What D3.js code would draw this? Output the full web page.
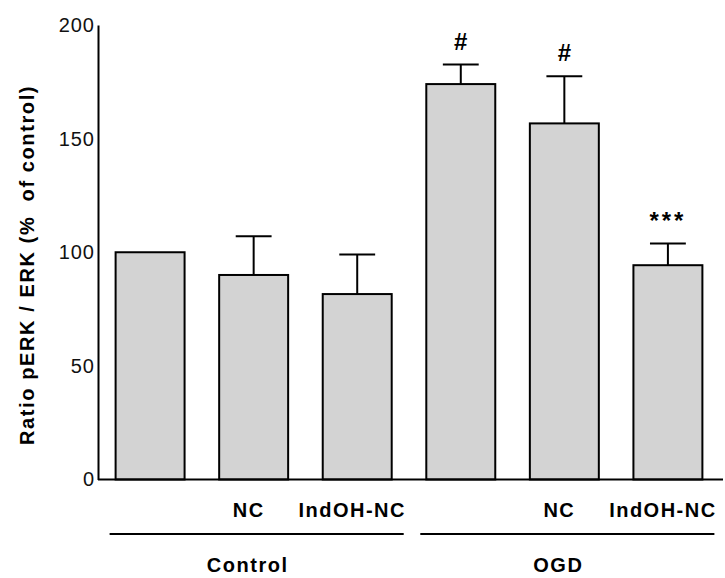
<!DOCTYPE html>
<html>
<head>
<meta charset="utf-8">
<script src="https://cdn.jsdelivr.net/npm/d3@7"></script>
<style>
  body { margin: 0; background: #fff; }
  svg { font-family: "Liberation Sans", Arial, sans-serif; }
</style>
</head>
<body>
<div id="chart"></div>
<script>
// data
var barIds = ["ctl", "ctl-nc", "ctl-ind", "ogd", "ogd-nc", "ogd-ind"];
var barLabels = ["", "NC", "IndOH-NC", "", "NC", "IndOH-NC"];
var means = [100, 90, 81.6, 174, 156.7, 94.3];
var errors = [0, 17, 17.4, 8.6, 20.8, 9.5];
var marks = ["", "", "", "#", "#", "***"];
var groupNames = ["Control", "OGD"];
var groupSpans = [[0, 2], [3, 5]];
var yTicks = [0, 50, 100, 150, 200];

// set the dimensions
var width = 725,
    height = 578;

var svg = d3.select("#chart")
    .append("svg")
    .attr("width", width)
    .attr("height", height);

// scales
var x = d3.scaleBand()
    .domain(barIds)
    .range([98, 720])
    .paddingInner(0.334)
    .paddingOuter(0.17);

var y = d3.scaleLinear()
    .domain([0, 200])
    .range([479.5, 25]);

var data = barIds.map(function(id, i) {
    return { id: id, label: barLabels[i], mean: means[i], err: errors[i], mark: marks[i] };
});

// Y axis
var yAxis = svg.append("g")
    .attr("transform", "translate(98,0)")
    .call(d3.axisLeft(y).tickValues(yTicks).tickSizeInner(0).tickSizeOuter(0).tickPadding(3));
yAxis.select(".domain").attr("stroke", "#000").attr("stroke-width", 2);
yAxis.selectAll("text")
    .attr("fill", "#111")
    .style("font-size", "20px")
    .style("letter-spacing", "1px")
    .style("font-family", "'Liberation Sans', Arial, sans-serif");

// y label
svg.append("text")
    .attr("transform", "translate(34,265) rotate(-90)")
    .attr("text-anchor", "middle")
    .style("font-size", "20px")
    .style("font-weight", "bold")
    .style("letter-spacing", "1.6px")
    .style("white-space", "pre")
    .text("Ratio pERK / ERK (%  of control)");

// error bars (drawn first so bars cover the stem bottom)
var errG = svg.append("g")
    .selectAll("g")
    .data(data.filter(function(d) { return d.err > 0; }))
    .enter()
    .append("g");

errG.append("line")
    .attr("x1", function(d) { return x(d.id) + x.bandwidth() / 2; })
    .attr("x2", function(d) { return x(d.id) + x.bandwidth() / 2; })
    .attr("y1", function(d) { return y(d.mean); })
    .attr("y2", function(d) { return y(d.mean + d.err); })
    .attr("stroke", "#000")
    .attr("stroke-width", 2);

errG.append("line")
    .attr("x1", function(d) { return x(d.id) + x.bandwidth() * 0.24; })
    .attr("x2", function(d) { return x(d.id) + x.bandwidth() * 0.76; })
    .attr("y1", function(d) { return y(d.mean + d.err); })
    .attr("y2", function(d) { return y(d.mean + d.err); })
    .attr("stroke", "#000")
    .attr("stroke-width", 2);

// bars
svg.append("g")
    .selectAll("rect")
    .data(data)
    .enter()
    .append("rect")
    .attr("x", function(d) { return x(d.id); })
    .attr("y", function(d) { return y(d.mean); })
    .attr("width", x.bandwidth())
    .attr("height", function(d) { return y(0) - y(d.mean); })
    .attr("fill", "#d3d3d3")
    .attr("stroke", "#000")
    .attr("stroke-width", 2);

// x axis line
svg.append("line")
    .attr("x1", 98)
    .attr("x2", 723)
    .attr("y1", y(0))
    .attr("y2", y(0))
    .attr("stroke", "#000")
    .attr("stroke-width", 2);

// significance marks
svg.append("g")
    .selectAll("text")
    .data(data.filter(function(d) { return d.mark; }))
    .enter()
    .append("text")
    .attr("x", function(d) { return x(d.id) + x.bandwidth() / 2; })
    .attr("y", function(d) { return y(d.mean + d.err) - 15; })
    .attr("text-anchor", "middle")
    .style("font-size", "24px")
    .style("font-weight", "bold")
    .style("letter-spacing", function(d) { return d.mark === "***" ? "3px" : "0px"; })
    .text(function(d) { return d.mark; });

// bar labels
svg.append("g")
    .selectAll("text")
    .data(data.filter(function(d) { return d.label; }))
    .enter()
    .append("text")
    .attr("x", function(d) { return x(d.id) + x.bandwidth() / 2 - 5; })
    .attr("y", 517)
    .attr("text-anchor", "middle")
    .style("font-size", "20px")
    .style("font-weight", "bold")
    .style("letter-spacing", "1.5px")
    .text(function(d) { return d.label; });

// group lines and labels
groupNames.forEach(function(name, i) {
    var first = barIds[groupSpans[i][0]],
        last = barIds[groupSpans[i][1]];
    var x0 = x(first) - 6,
        x1 = x(last) + x.bandwidth() + 12;
    svg.append("line")
        .attr("x1", x0)
        .attr("x2", x1)
        .attr("y1", 534)
        .attr("y2", 534)
        .attr("stroke", "#000")
        .attr("stroke-width", 2);
    svg.append("text")
        .attr("x", x(barIds[groupSpans[i][0] + 1]) + x.bandwidth() / 2 - 6)
        .attr("y", 572)
        .attr("text-anchor", "middle")
        .style("font-size", "20px")
        .style("font-weight", "bold")
        .style("letter-spacing", "1.5px")
        .text(name);
});
</script>
</body>
</html>
